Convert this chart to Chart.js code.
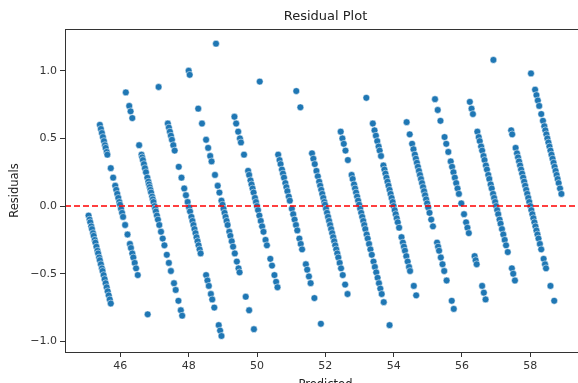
<!DOCTYPE html>
<html>
<head>
<meta charset="utf-8">
<script src="https://cdn.jsdelivr.net/npm/chart.js@4"></script>
<style>
  html, body { margin: 0; padding: 0; background: #fff; overflow: hidden; }
  #wrap { width: 600px; height: 394px; }
</style>
</head>
<body>
<div id="wrap"><canvas id="chart" width="600" height="394"></canvas></div>
<script>
// actual target value of each diagonal band, and the predictions that fall on it
const actualValues = [45, 46, 47, 48, 49, 50, 51, 52, 53, 54, 55, 56, 57, 58, 59];

const pred45 = [45.07, 45.10, 45.12, 45.15, 45.17, 45.20, 45.22, 45.25, 45.27, 45.30, 45.33, 45.35, 45.38,
  45.40, 45.43, 45.46, 45.48, 45.51, 45.54, 45.57, 45.60, 45.63, 45.66, 45.69, 45.72];
const pred46 = [45.40, 45.43, 45.46, 45.49, 45.52, 45.55, 45.57, 45.60, 45.62, 45.72, 45.79, 45.85, 45.88,
  45.91, 45.94, 45.97, 45.99, 46.02, 46.05, 46.08, 46.14, 46.21, 46.28, 46.31, 46.35, 46.38, 46.42, 46.46,
  46.51, 46.80];
const pred47 = [46.16, 46.26, 46.30, 46.35, 46.55, 46.62, 46.64, 46.66, 46.69, 46.72, 46.75, 46.79, 46.82,
  46.84, 46.86, 46.88, 46.90, 46.93, 46.95, 46.97, 47.00, 47.02, 47.04, 47.07, 47.10, 47.14, 47.19, 47.24,
  47.29, 47.36, 47.42, 47.48, 47.57, 47.62, 47.70, 47.77, 47.81];
const pred48 = [47.12, 47.39, 47.42, 47.45, 47.48, 47.51, 47.55, 47.59, 47.71, 47.79, 47.87, 47.92, 47.97,
  48.01, 48.04, 48.08, 48.11, 48.14, 48.17, 48.20, 48.23, 48.26, 48.29, 48.32, 48.35, 48.51, 48.55, 48.59,
  48.65, 48.69, 48.75, 48.88, 48.92, 48.96];
const pred49 = [48.00, 48.03, 48.28, 48.39, 48.51, 48.57, 48.63, 48.67, 48.77, 48.85, 48.90, 48.96, 48.99,
  49.02, 49.05, 49.08, 49.11, 49.14, 49.19, 49.22, 49.26, 49.30, 49.35, 49.41, 49.46, 49.49, 49.67, 49.77,
  49.91];
const pred50 = [48.80, 49.34, 49.39, 49.45, 49.50, 49.53, 49.62, 49.74, 49.77, 49.81, 49.84, 49.87, 49.90,
  49.94, 49.97, 50.00, 50.03, 50.07, 50.11, 50.15, 50.19, 50.25, 50.29, 50.39, 50.44, 50.51, 50.56, 50.60];
const pred51 = [50.08, 50.62, 50.66, 50.69, 50.73, 50.76, 50.79, 50.83, 50.86, 50.89, 50.93, 50.96, 51.02,
  51.06, 51.10, 51.14, 51.18, 51.24, 51.28, 51.32, 51.43, 51.47, 51.52, 51.57, 51.68, 51.87];
const pred52 = [51.15, 51.27, 51.61, 51.65, 51.69, 51.74, 51.78, 51.82, 51.85, 51.88, 51.91, 51.94, 51.97,
  51.99, 52.02, 52.05, 52.08, 52.11, 52.14, 52.17, 52.20, 52.23, 52.26, 52.29, 52.32, 52.35, 52.38, 52.42,
  52.46, 52.51, 52.58, 52.65];
const pred53 = [52.45, 52.50, 52.54, 52.59, 52.66, 52.77, 52.80, 52.84, 52.87, 52.90, 52.93, 52.96, 52.99,
  53.02, 53.05, 53.08, 53.11, 53.14, 53.17, 53.21, 53.24, 53.28, 53.32, 53.36, 53.41, 53.45, 53.49, 53.53,
  53.57, 53.61, 53.65, 53.71, 53.88];
const pred54 = [53.20, 53.39, 53.44, 53.48, 53.52, 53.56, 53.59, 53.63, 53.70, 53.73, 53.76, 53.79, 53.82,
  53.85, 53.88, 53.91, 53.94, 53.97, 54.00, 54.03, 54.06, 54.09, 54.12, 54.16, 54.23, 54.27, 54.30, 54.33,
  54.37, 54.41, 54.45, 54.48, 54.59, 54.66];
const pred55 = [54.38, 54.47, 54.54, 54.58, 54.62, 54.65, 54.68, 54.71, 54.74, 54.77, 54.80, 54.83, 54.86,
  54.89, 54.92, 54.95, 54.98, 55.01, 55.05, 55.10, 55.15, 55.27, 55.30, 55.33, 55.38, 55.43, 55.48, 55.55,
  55.70, 55.76];
const pred56 = [55.21, 55.29, 55.37, 55.49, 55.54, 55.60, 55.67, 55.71, 55.75, 55.79, 55.83, 55.87, 55.91,
  55.98, 56.06, 56.12, 56.16, 56.20, 56.37, 56.40, 56.43, 56.59, 56.64, 56.69];
const pred57 = [56.23, 56.28, 56.32, 56.45, 56.49, 56.52, 56.56, 56.59, 56.63, 56.66, 56.70, 56.73, 56.77,
  56.80, 56.84, 56.87, 56.91, 56.94, 56.97, 57.00, 57.03, 57.06, 57.10, 57.13, 57.17, 57.21, 57.25, 57.29,
  57.34, 57.46, 57.50, 57.55];
const pred58 = [56.92, 57.44, 57.47, 57.57, 57.61, 57.64, 57.67, 57.70, 57.73, 57.76, 57.79, 57.82, 57.85,
  57.88, 57.91, 57.94, 57.97, 58.00, 58.03, 58.06, 58.09, 58.12, 58.15, 58.18, 58.21, 58.24, 58.28, 58.32,
  58.39, 58.43, 58.46, 58.59, 58.70];
const pred59 = [58.02, 58.14, 58.18, 58.22, 58.26, 58.32, 58.37, 58.41, 58.44, 58.47, 58.50, 58.53, 58.56,
  58.59, 58.62, 58.65, 58.68, 58.71, 58.74, 58.77, 58.80, 58.83, 58.87, 58.91];

const predictedByBand = [pred45, pred46, pred47, pred48, pred49, pred50, pred51, pred52,
  pred53, pred54, pred55, pred56, pred57, pred58, pred59];

const xTicks = [46, 48, 50, 52, 54, 56, 58];
const yTicks = [-1.0, -0.5, 0.0, 0.5, 1.0];
const xLimits = [44.38, 59.63];
const yLimits = [-1.0785, 1.3085];
const zeroLevel = 0;

// residual = actual - predicted
const points = [];
predictedByBand.forEach((preds, i) => {
  preds.forEach(p => points.push({ x: p, y: +(actualValues[i] - p).toFixed(3) }));
});

const FONT = "'DejaVu Sans', sans-serif";
const fmt = v => v.toFixed(1).replace('-', '\u2212');

const framePlugin = {
  id: 'frame',
  afterDraw(chart) {
    const { ctx, chartArea: a } = chart;
    ctx.save();
    ctx.strokeStyle = '#333';
    ctx.lineWidth = 1;
    ctx.strokeRect(Math.round(a.left) + 0.5, Math.round(a.top) + 0.5,
      Math.round(a.right - a.left), Math.round(a.bottom - a.top));
    ctx.fillStyle = '#222';
    ctx.font = '13px ' + FONT;
    ctx.textAlign = 'center';
    ctx.textBaseline = 'middle';
    ctx.fillText('Residual Plot', (a.left + a.right) / 2, 17);
    ctx.restore();
  }
};

new Chart(document.getElementById('chart'), {
  type: 'scatter',
  data: {
    datasets: [
      {
        type: 'line',
        label: 'zero',
        data: [{ x: xLimits[0], y: zeroLevel }, { x: xLimits[1], y: zeroLevel }],
        borderColor: '#ff0000',
        borderWidth: 1.6,
        borderDash: [6, 3],
        pointRadius: 0,
        fill: false,
        order: 0,
      },
      {
        label: 'residuals',
        data: points,
        backgroundColor: '#1f77b4',
        borderColor: 'rgba(255,255,255,0.85)',
        borderWidth: 0.6,
        pointRadius: 3.4,
        order: 1,
      }
    ]
  },
  options: {
    responsive: false,
    animation: false,
    devicePixelRatio: 1,
    layout: { padding: { top: 29, right: 14, left: 0, bottom: 0 } },
    plugins: { legend: { display: false }, tooltip: { enabled: false }, title: { display: false } },
    scales: {
      x: {
        type: 'linear',
        min: xLimits[0],
        max: xLimits[1],
        afterFit: s => { s.height = 42; },
        afterBuildTicks: s => { s.ticks = xTicks.map(v => ({ value: v })); },
        grid: { drawOnChartArea: false, drawTicks: true, tickLength: 5, tickColor: '#333' },
        border: { display: false },
        ticks: {
          padding: 3,
          color: '#333',
          font: { family: FONT, size: 11 },
          maxRotation: 0,
          callback: v => String(v),
        },
        title: {
          display: true,
          text: 'Predicted',
          color: '#222',
          font: { family: FONT, size: 11.5 },
          padding: { top: 0, bottom: 2 },
        },
      },
      y: {
        type: 'linear',
        min: yLimits[0],
        max: yLimits[1],
        afterFit: s => { s.width = 65; },
        afterBuildTicks: s => { s.ticks = yTicks.map(v => ({ value: v })); },
        grid: { drawOnChartArea: false, drawTicks: true, tickLength: 5, tickColor: '#333' },
        border: { display: false },
        ticks: {
          padding: 3,
          color: '#333',
          font: { family: FONT, size: 11 },
          callback: v => fmt(v),
        },
        title: {
          display: true,
          text: 'Residuals',
          color: '#222',
          font: { family: FONT, size: 11.5 },
          padding: { top: 8, bottom: 0 },
        },
      },
    },
  },
  plugins: [framePlugin],
});
</script>
</body>
</html>
